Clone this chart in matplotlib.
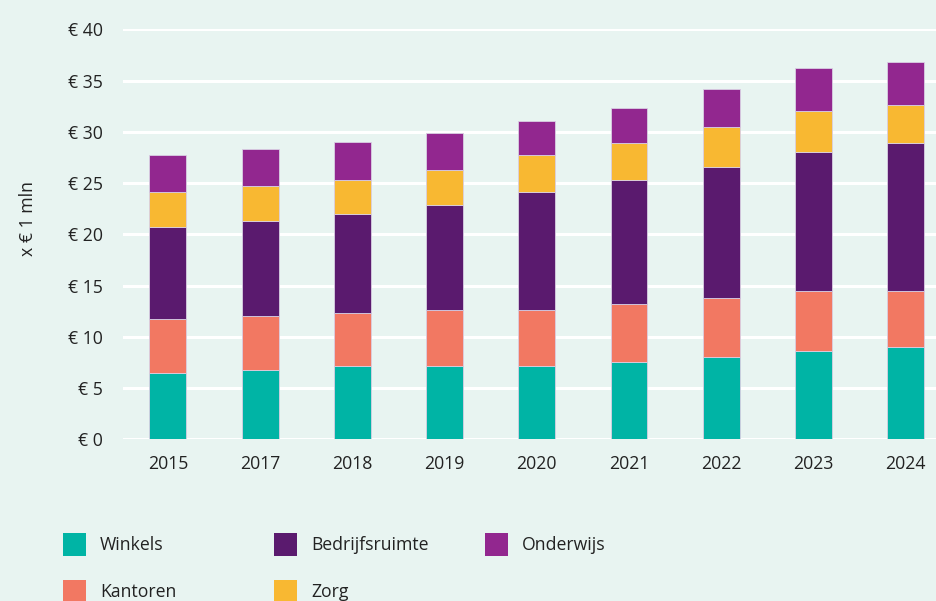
import matplotlib
matplotlib.use('Agg')
import matplotlib.pyplot as plt
from matplotlib.patches import Rectangle
import numpy as np

plt.rcParams['font.family'] = ['Open Sans', 'DejaVu Sans']

# Data (x € 1 mln)
years = ['2015', '2017', '2018', '2019', '2020', '2021', '2022', '2023', '2024']
winkels = [6.5, 6.8, 7.2, 7.2, 7.2, 7.5, 8.05, 8.65, 9.0]
kantoren = [5.2, 5.2, 5.15, 5.45, 5.4, 5.75, 5.75, 5.8, 5.45]
bedrijfsruimte = [9.05, 9.35, 9.65, 10.25, 11.5, 12.05, 12.75, 13.6, 14.5]
zorg = [3.35, 3.35, 3.35, 3.4, 3.65, 3.65, 3.9, 3.95, 3.65]
onderwijs = [3.65, 3.6, 3.65, 3.6, 3.35, 3.35, 3.7, 4.2, 4.25]

series = [
    ('Winkels', winkels, '#00B4A5'),
    ('Kantoren', kantoren, '#F27862'),
    ('Bedrijfsruimte', bedrijfsruimte, '#5A1A6E'),
    ('Zorg', zorg, '#F8B832'),
    ('Onderwijs', onderwijs, '#92278F'),
]

bg = '#E8F4F1'
fig = plt.figure(figsize=(9.37, 6.01), dpi=100, facecolor=bg)
ax = fig.add_axes([0.131, 0.269, 0.869, 0.682])
ax.set_facecolor(bg)

x = np.arange(len(years))
bottom = np.zeros(len(years))
for name, vals, color in series:
    ax.bar(x, vals, width=0.4, bottom=bottom, color=color,
           edgecolor='#D9CFE3', linewidth=0.6, zorder=3)
    bottom += np.array(vals)

ax.set_ylim(0, 40)
ax.set_xlim(-0.49, 8.34)
ax.set_yticks(range(0, 41, 5))
ax.set_yticklabels(['€ %d' % v for v in range(0, 41, 5)], fontsize=12.7, color='#222222')
ax.set_xticks(x)
ax.set_xticklabels(years, fontsize=12.7, color='#222222')
ax.tick_params(axis='both', length=0)
ax.tick_params(axis='y', pad=14)
ax.tick_params(axis='x', pad=11.5)
ax.yaxis.grid(True, color='white', linewidth=2.2, zorder=0)
ax.set_axisbelow(True)
for s in ax.spines.values():
    s.set_visible(False)

fig.text(28 / 937, 1 - 219 / 601, 'x € 1 mln', rotation=90, ha='center', va='center',
         fontsize=12.7, color='#222222')

# Legend laid out in a grid like the original
legend_pos = [
    ('Winkels', 63, 533),
    ('Kantoren', 63, 580),
    ('Bedrijfsruimte', 274, 533),
    ('Zorg', 274, 580),
    ('Onderwijs', 485, 533),
]
colors = {name: color for name, _, color in series}
W, H = 937, 601
for name, px, py in legend_pos:
    fig.patches.append(Rectangle((px / W, 1 - (py + 23) / H), 23 / W, 23 / H,
                                 transform=fig.transFigure, facecolor=colors[name],
                                 edgecolor='none'))
    fig.text((px + 37) / W, 1 - (py + 12) / H, name, ha='left', va='center',
             fontsize=12.7, color='#222222')

fig.savefig('out.png', dpi=100, facecolor=bg)
